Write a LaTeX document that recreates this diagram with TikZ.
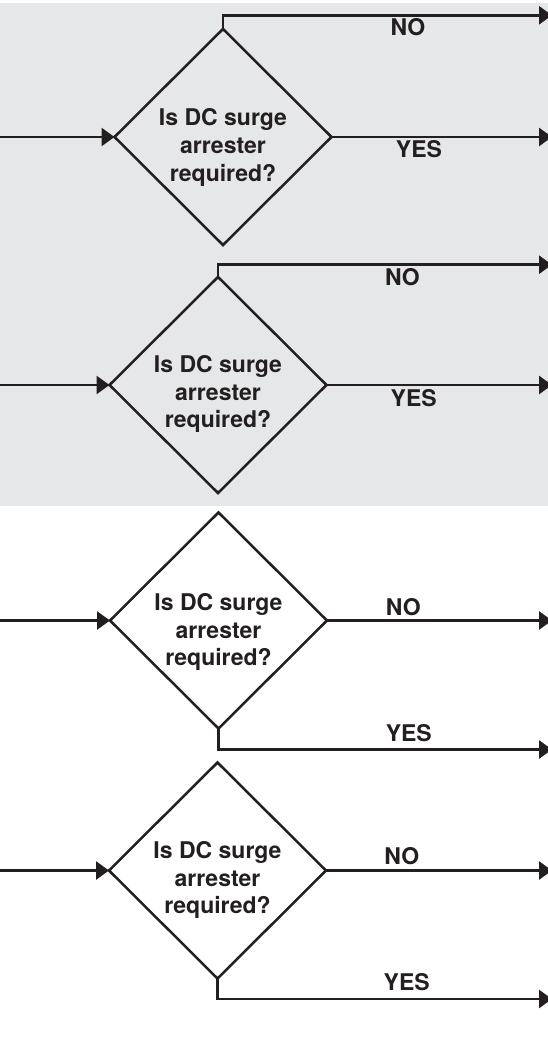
\documentclass[tikz,border=0pt]{standalone}
\usepackage{fontspec}
\setmainfont{TeX Gyre Heros}
\usetikzlibrary{shapes.geometric,arrows.meta}
\definecolor{ink}{HTML}{231F20}
\definecolor{panel}{HTML}{E6E7E8}
\begin{document}
\begin{tikzpicture}[x=1pt,y=-1pt,
  line width=2.7pt,
  decision/.style={draw=ink, shape=diamond, minimum width=217pt, minimum height=216pt, inner sep=0pt, outer sep=0pt, line width=2.5pt},
  question/.style={font=\fontsize{23}{27.7}\selectfont\bfseries, align=center, inner sep=0pt, anchor=north, text=ink},
  answer/.style={font=\fontsize{23}{27.7}\selectfont\bfseries, inner sep=0pt, anchor=base, text=ink},
  flow/.style={draw=ink, -{Triangle[length=13pt,width=18pt]}},
]
\useasboundingbox (0,0) rectangle (548,1056);
\fill[panel] (0,3) rectangle (548,506);

% Row 1
\node[decision] (d1) at (223,137) {};
\node[question] (q1) at (223,107.3) {Is DC surge\\arrester\\required?};
\coordinate (in1) at (0,137);
\coordinate (no1) at (552,15.3);
\coordinate (yes1) at (552,137);
\draw[flow] (in1) -- (d1.west);
\draw[flow] (d1.north) |- (no1);
\draw[flow] (d1.east) -- (yes1);
\node[answer] (n1) at (408,36) {NO};
\node[answer] (y1) at (419,157.3) {YES};

% Row 2
\node[decision] (d2) at (218,385) {};
\node[question] (q2) at (218,354) {Is DC surge\\arrester\\required?};
\coordinate (in2) at (0,385);
\coordinate (no2) at (552,264.7);
\coordinate (yes2) at (552,385);
\draw[flow] (in2) -- (d2.west);
\draw[flow] (d2.north) |- (no2);
\draw[flow] (d2.east) -- (yes2);
\node[answer] (n2) at (402.5,285) {NO};
\node[answer] (y2) at (413.7,406.7) {YES};

% Row 3
\node[decision] (d3) at (218.5,620.5) {};
\node[question] (q3) at (218.5,592) {Is DC surge\\arrester\\required?};
\coordinate (in3) at (0,620.5);
\coordinate (no3) at (552,620.5);
\coordinate (yes3) at (552,749.5);
\draw[flow] (in3) -- (d3.west);
\draw[flow] (d3.east) -- (no3);
\draw[flow] (d3.south) |- (yes3);
\node[answer] (n3) at (403.3,615) {NO};
\node[answer] (y3) at (408.8,741.7) {YES};

% Row 4
\node[decision] (d4) at (217.5,870.5) {};
\node[question] (q4) at (217.5,840) {Is DC surge\\arrester\\required?};
\coordinate (in4) at (0,870.5);
\coordinate (no4) at (552,870.5);
\coordinate (yes4) at (552,999);
\draw[flow] (in4) -- (d4.west);
\draw[flow] (d4.east) -- (no4);
\draw[flow] (d4.south) |- (yes4);
\node[answer] (n4) at (401.8,864) {NO};
\node[answer] (y4) at (406.7,990.7) {YES};
\end{tikzpicture}
\end{document}
